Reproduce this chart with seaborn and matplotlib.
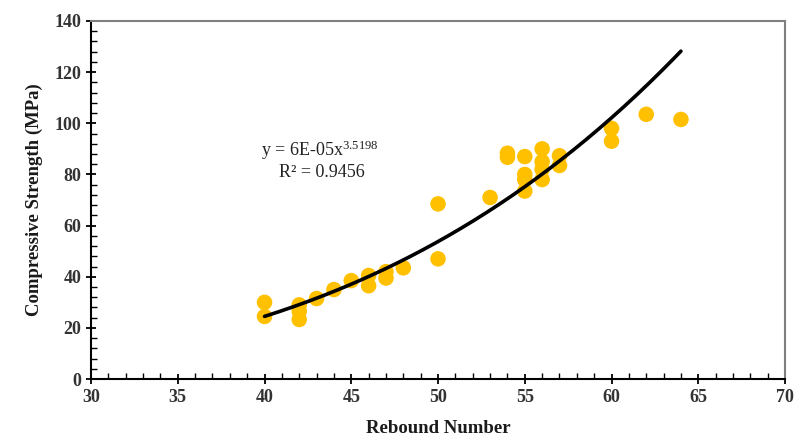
import numpy as np
import pandas as pd
import matplotlib
matplotlib.use("Agg")
import matplotlib.pyplot as plt
import seaborn as sns
from matplotlib.ticker import MultipleLocator

sns.set_theme(style="white")
plt.rcParams['font.family'] = ['Liberation Serif', 'DejaVu Serif']
plt.rcParams['mathtext.fontset'] = 'custom'
plt.rcParams['mathtext.rm'] = 'Liberation Serif'
plt.rcParams['mathtext.default'] = 'rm'

rebound = [40, 40, 42, 42, 42, 43, 44, 45, 46, 46, 47, 47, 48, 50, 50, 53,
           54, 54, 55, 55, 55, 55, 56, 56, 56, 56, 57, 57, 60, 60, 62, 64]
strength = [30, 24.5, 29, 26.5, 23.3, 31.5, 35, 38.5, 40.5, 36.5, 42, 39.5, 43.5, 68.5, 47, 71,
            88.3, 86.7, 87, 80, 78, 73.5, 90, 85, 82, 78, 87.3, 83.5, 98, 93, 103.5, 101.5]

coef = 5.63e-05
expo = 3.5198
eq_text = "y = 6E-05x$^{3.5198}$"
r2_text = "R² = 0.9456"

df = pd.DataFrame({"Rebound Number": rebound, "Compressive Strength (MPa)": strength})

fig = plt.figure(figsize=(7.97, 4.46), dpi=100)
ax = fig.add_axes([0.1142, 0.150, 0.8708, 0.803])

sns.scatterplot(data=df, x="Rebound Number", y="Compressive Strength (MPa)", ax=ax,
                color="#FFC000", s=125, edgecolor="none", zorder=2)

xs = np.linspace(min(rebound), max(rebound), 200)
trend = pd.DataFrame({"x": xs, "y": coef * xs ** expo})
sns.lineplot(data=trend, x="x", y="y", ax=ax, color="black", linewidth=2.6, zorder=3)

ax.text(43.2, 89.5, eq_text, fontsize=13, ha="center", va="center", color="#222222")
ax.text(43.3, 80.6, r2_text, fontsize=13, ha="center", va="center", color="#222222")

ax.set_xlim(30, 70)
ax.set_ylim(0, 140)
ax.xaxis.set_major_locator(MultipleLocator(5))
ax.xaxis.set_minor_locator(MultipleLocator(1))
ax.yaxis.set_major_locator(MultipleLocator(20))
ax.yaxis.set_minor_locator(MultipleLocator(4))
ax.tick_params(which="major", direction="inout", length=7, width=1.3, color="black",
               labelsize=13, labelcolor="#333333", bottom=True, left=True)
ax.tick_params(which="minor", direction="in", length=4, width=1, color="black",
               bottom=True, left=True)
for lbl in ax.get_xticklabels() + ax.get_yticklabels():
    lbl.set_fontweight("bold")

ax.set_xlabel("Rebound Number", fontsize=13.5, fontweight="bold", color="#1a1a1a", labelpad=10)
ax.set_ylabel("Compressive Strength (MPa)", fontsize=13.5, fontweight="bold", color="#1a1a1a", labelpad=8)

for side in ["left", "bottom"]:
    ax.spines[side].set_color("black")
    ax.spines[side].set_linewidth(1.5)
for side in ["top", "right"]:
    ax.spines[side].set_color("#7f7f7f")
    ax.spines[side].set_linewidth(1.5)

fig.savefig("out.png", dpi=100)
